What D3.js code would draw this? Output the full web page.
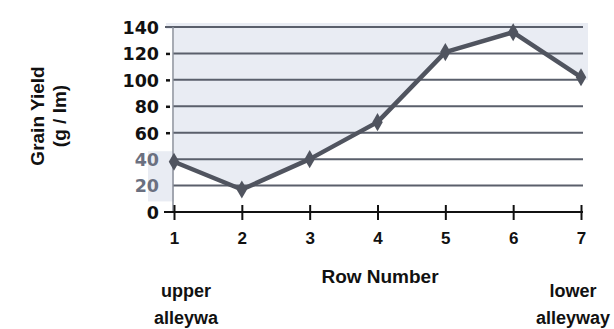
<!DOCTYPE html>
<html><head><meta charset="utf-8">
<script src="https://cdn.jsdelivr.net/npm/d3@7"></script>
<style>body{margin:0;background:#fff}svg{display:block}</style>
</head><body>
<script>
const rows = [1, 2, 3, 4, 5, 6, 7];
const yieldValues = [38, 17, 40, 68, 121, 136, 102];
const yTicks = [0, 20, 40, 60, 80, 100, 120, 140];

const W = 614, H = 329;
const svg = d3.select("body").append("svg").attr("width", W).attr("height", H);
const x = d3.scaleLinear().domain([1, 7]).range([174, 581]);
const y = d3.scaleLinear().domain([0, 140]).range([212, 27]);
const font = "Liberation Sans, Arial, sans-serif";

const pts = rows.map((r, i) => [r, yieldValues[i]]);

// plot background: light fill above the series line
svg.append("path").datum(pts)
  .attr("d", d3.area().x(d => x(d[0])).y0(y(140)).y1(d => y(d[1])))
  .attr("fill", "#e9ecf3");
svg.append("rect").attr("x", x(1) - 8).attr("y", y(140) - 4).attr("width", x(7) - x(1) + 15)
  .attr("height", 6).attr("fill", "#e9ecf3");
svg.append("rect").attr("x", x(7)).attr("y", y(140)).attr("width", 7)
  .attr("height", y(100) - y(140)).attr("fill", "#e9ecf3");
svg.append("rect").attr("x", 148).attr("y", y(46)).attr("width", x(1) - 148)
  .attr("height", y(8) - y(46)).attr("fill", "#e9ecf3");

// gridlines
svg.append("g").selectAll("line").data(yTicks.filter(d => d > 0)).join("line")
  .attr("x1", d => d === 140 ? x(1) - 9 : x(1) - 1).attr("x2", x(7) + 2)
  .attr("y1", d => y(d)).attr("y2", d => y(d))
  .attr("stroke", "#5a5f6b").attr("stroke-width", 2);

// y axis line
svg.append("line").attr("x1", x(1) - 1).attr("x2", x(1) - 1).attr("y1", y(140)).attr("y2", y(0))
  .attr("stroke", "#8a8f9a").attr("stroke-width", 1.5);

// y axis labels
const yAxis = d3.axisLeft(y).tickValues(yTicks).tickSize(0).tickPadding(0);
const gy = svg.append("g").attr("transform", "translate(159,0)").call(yAxis);
gy.select(".domain").remove();
gy.selectAll(".tick").filter(d => d >= 60 && d <= 120).append("line")
  .attr("x1", 7).attr("x2", 11).attr("stroke", "#111").attr("stroke-width", 2.5);
gy.selectAll(".tick text").attr("font-family", "DejaVu Sans, sans-serif")
  .attr("font-weight", "bold").attr("font-size", 17.5).attr("dy", "0.36em")
  .attr("fill", d => (d === 40 || d === 20) ? "#6b7080" : "#111");

// x axis
const xAxis = d3.axisBottom(x).tickValues(rows).tickSize(0).tickPadding(20).tickFormat(d3.format("d"));
const gx = svg.append("g").attr("transform", `translate(0,${y(0)})`).call(xAxis);
gx.select(".domain").remove();
svg.append("line").attr("x1", x(1) - 10).attr("x2", x(7) + 2).attr("y1", y(0)).attr("y2", y(0))
  .attr("stroke", "#111").attr("stroke-width", 2);
gx.selectAll(".tick").append("line").attr("y1", -7).attr("y2", 8).attr("stroke", "#111").attr("stroke-width", 2);
gx.selectAll(".tick text").attr("font-family", font)
  .attr("font-weight", "bold").attr("font-size", 17).attr("fill", "#111");

// line
svg.append("path").datum(pts)
  .attr("d", d3.line().x(d => x(d[0])).y(d => y(d[1])))
  .attr("fill", "none").attr("stroke", "#50545f").attr("stroke-width", 4.5).attr("stroke-linejoin", "round");

svg.append("g").selectAll("path").data(pts).join("path")
  .attr("d", d3.symbol(d3.symbolDiamond, 95)())
  .attr("transform", d => `translate(${x(d[0])},${y(d[1])})`)
  .attr("fill", "#50545f");

// titles
const yt = svg.append("text").attr("transform", "translate(0,116) rotate(-90)")
  .attr("text-anchor", "middle").attr("font-family", font).attr("font-weight", "bold")
  .attr("font-size", 19).attr("fill", "#111");
yt.append("tspan").attr("x", 0).attr("y", 44).text("Grain Yield");
yt.append("tspan").attr("x", 0).attr("y", 66).text("(g / lm)");

svg.append("text").attr("x", 380).attr("y", 283).attr("text-anchor", "middle")
  .attr("font-family", font).attr("font-weight", "bold")
  .attr("font-size", 19).attr("fill", "#111").text("Row Number");

const notes = [
  { cx: 186, lines: ["upper", "alleywa"] },
  { cx: 573, lines: ["lower", "alleyway"] }
];
notes.forEach(n => {
  n.lines.forEach((t, i) => {
    svg.append("text").attr("x", n.cx).attr("y", 297 + i * 27).attr("text-anchor", "middle")
      .attr("font-family", font).attr("font-weight", "bold").attr("font-size", 18)
      .attr("fill", "#111").text(t);
  });
});
</script>
</body></html>
